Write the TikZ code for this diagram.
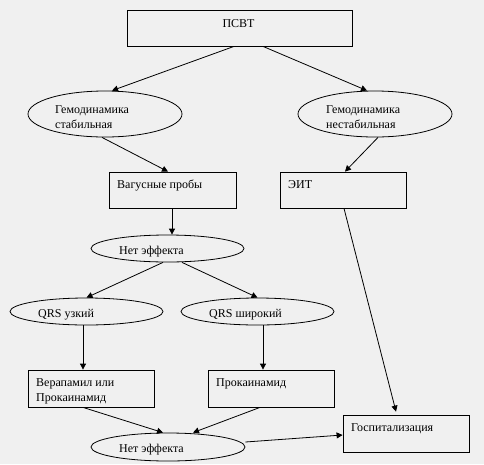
\documentclass[tikz,border=0pt]{standalone}
\usepackage{fontspec}
\setmainfont{Liberation Serif}
\usetikzlibrary{arrows.meta,shapes.geometric,calc}
\definecolor{bg}{HTML}{F0F0F0}
\tikzset{
  box/.style={draw=black, line width=0.8pt, rectangle, minimum width=126pt, minimum height=36pt, inner sep=0pt},
  oval/.style={draw=black, line width=0.8pt, ellipse, minimum width=153pt, minimum height=27pt, inner sep=0pt},
  txt/.style={anchor=base west, inner sep=0pt, font=\fontsize{12}{14}\selectfont},
  arr/.style={draw=black, line width=0.8pt, -{Triangle[length=6pt,width=6pt]}}
}
\begin{document}
\begin{tikzpicture}[x=1pt,y=-1pt]
\fill[bg] (0,0) rectangle (484,464);
\useasboundingbox (0,0) rectangle (484,464);
% boxes
\node[box, minimum width=225pt] (top) at (239.5,28) {};
\node[box, minimum width=127pt] (vag) at (172.5,190) {};
\node[box] (eit) at (343,190) {};
\node[box, minimum height=37pt] (ver) at (91,388.5) {};
\node[box, minimum height=37pt] (prok) at (271,388.5) {};
\node[box, minimum height=37pt] (gosp) at (406,433.5) {};
% ellipses
\node[oval, minimum width=154pt, minimum height=46pt] (stab) at (105,114) {};
\node[oval, minimum width=154pt, minimum height=46pt] (unstab) at (375,114) {};
\node[oval] (net1) at (167.5,248.5) {};
\node[oval] (qrsN) at (86.5,311.5) {};
\node[oval] (qrsW) at (257.5,311.5) {};
\node[oval, minimum width=154pt, minimum height=28pt] (net2) at (168,447) {};
% texts
\node[txt, anchor=base] (tTop) at (238.5,27) {ПСВТ};
\node[txt] (tStab1) at (55,113) {Гемодинамика};
\node[txt] (tStab2) at (55,128.5) {стабильная};
\node[txt] (tUn1) at (326,113) {Гемодинамика};
\node[txt] (tUn2) at (326,128.5) {нестабильная};
\node[txt] (tVag) at (117,188) {Вагусные пробы};
\node[txt] (tEit) at (288,188) {ЭИТ};
\node[txt] (tNet1) at (119,254) {Нет эффекта};
\node[txt] (tQN) at (38,317) {QRS узкий};
\node[txt] (tQW) at (209,317) {QRS широкий};
\node[txt] (tVer1) at (36,386) {Верапамил или};
\node[txt] (tVer2) at (36,401.5) {Прокаинамид};
\node[txt] (tProk) at (216,386) {Прокаинамид};
\node[txt] (tGosp) at (351,431) {Госпитализация};
\node[txt] (tNet2) at (119,452) {Нет эффекта};
% connectors
\draw[arr] ($(top.south)+(-5.5,0)$) -- ($(stab.north)+(7,0)$);
\draw[arr] ($(top.south)+(23.5,0)$) -- ($(unstab.north)+(-8,0)$);
\draw[arr] ($(stab.south)+(-3,0)$) -- ($(vag.north)+(-4.5,0)$);
\draw[arr] ($(unstab.south)+(3,0)$) -- ($(eit.north)+(2,0)$);
\draw[arr] ($(vag.south)+(-0.5,0)$) -- ($(net1.north)+(4.5,0)$);
\draw[arr] ($(net1.south)+(-4.5,0)$) -- (qrsN.north);
\draw[arr] ($(net1.south)+(14.5,0)$) -- (qrsW.north);
\draw[arr] ($(qrsN.south)+(-3.5,0)$) -- ($(ver.north)+(-8,0)$);
\draw[arr] ($(qrsW.south)+(5.5,0)$) -- ($(prok.north)+(-8,0)$);
\draw[arr] ($(eit.south)+(1,0)$) -- ($(gosp.north)+(-10,-3)$);
\draw[arr] ($(ver.south)+(-8,0)$) -- ($(net2.north)+(-5,0)$);
\draw[arr] ($(prok.south)+(-11,0)$) -- ($(net2.north)+(25,0)$);
\draw[arr] ($(net2.east)+(0,-5)$) -- ($(gosp.west)+(0,1.5)$);
\end{tikzpicture}
\end{document}
